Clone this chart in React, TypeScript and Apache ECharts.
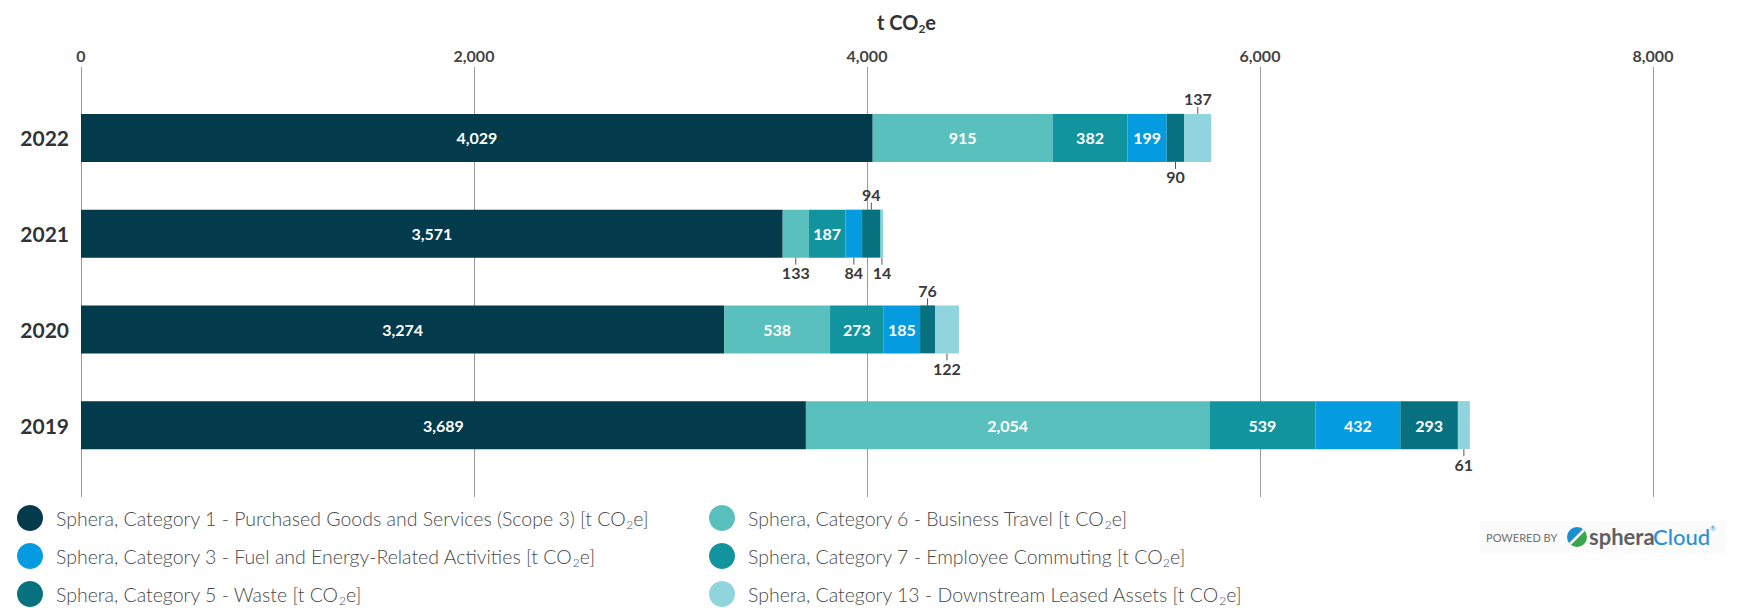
import React, { useEffect, useRef } from 'react';
import * as echarts from 'echarts';

const years = ['2022', '2021', '2020', '2019'];
const xTicks = { min: 0, max: 8000, interval: 2000 };

const seriesNames = [
  'Sphera, Category 1 - Purchased Goods and Services (Scope 3) [t CO2e]',
  'Sphera, Category 6 - Business Travel [t CO2e]',
  'Sphera, Category 7 - Employee Commuting [t CO2e]',
  'Sphera, Category 3 - Fuel and Energy-Related Activities [t CO2e]',
  'Sphera, Category 5 - Waste [t CO2e]',
  'Sphera, Category 13 - Downstream Leased Assets [t CO2e]',
];
const seriesColors = ['#033a4c', '#5ac0bd', '#12949f', '#049be0', '#08717f', '#90d4dd'];

// values per year: 2022, 2021, 2020, 2019
const cat1 = [4029, 3571, 3274, 3689];
const cat6 = [915, 133, 538, 2054];
const cat7 = [382, 187, 273, 539];
const cat3 = [199, 84, 185, 432];
const cat5 = [90, 94, 76, 293];
const cat13 = [137, 14, 122, 61];
const seriesValues = [cat1, cat6, cat7, cat3, cat5, cat13];

// where each value label sits: inside the bar, above or below it
const labelPlacement = [
  ['in', 'in', 'in', 'in'],
  ['in', 'bottom', 'in', 'in'],
  ['in', 'in', 'in', 'in'],
  ['in', 'bottom', 'in', 'in'],
  ['bottom', 'top', 'top', 'in'],
  ['top', 'bottom', 'bottom', 'bottom'],
];

const legendLeft = [seriesNames[0], seriesNames[3], seriesNames[4]];
const legendRight = [seriesNames[1], seriesNames[2], seriesNames[5]];

const FONT = 'Lato, "Open Sans", sans-serif';

const fmt = (v: number) => v.toLocaleString('en-US');

export default function App() {
  const ref = useRef<HTMLDivElement>(null);
  useEffect(() => {
    if (!ref.current) return;
    const chart = echarts.init(ref.current, undefined, { renderer: 'svg' });
    const series = seriesValues.map((vals, si) => ({
      type: 'bar',
      name: seriesNames[si],
      stack: 'total',
      barWidth: 48,
      itemStyle: { color: seriesColors[si] },
      labelLayout: (p: any) => {
        const pl = labelPlacement[p.seriesIndex]?.[p.dataIndex];
        if (pl === 'top') return { dy: -39 };
        if (pl === 'bottom') return { dy: 39 };
        return {};
      },
      data: vals.map((v, di) => {
        const pl = labelPlacement[si][di];
        if (pl === 'in') {
          return {
            value: v,
            label: {
              show: true,
              position: 'inside',
              color: '#ffffff',
              fontWeight: 'bold',
              fontSize: 16,
              fontFamily: FONT,
              formatter: (p: any) => fmt(p.value),
            },
          };
        }
        return {
          value: v,
          label: {
            show: true,
            position: 'inside',
            color: '#3a3a3a',
            fontWeight: 'bold',
            fontSize: 16,
            fontFamily: FONT,
            formatter: (p: any) => fmt(p.value),
          },
          labelLine: { show: true, lineStyle: { color: '#555555', width: 1 } },
        };
      }),
    }));

    const legendText = {
      fontSize: 19.5,
      color: '#4a4a4a',
      fontFamily: FONT,
      fontWeight: 300,
      rich: {
        sub: { fontSize: 12, color: '#4a4a4a', fontFamily: FONT, fontWeight: 300, padding: [12, 0, 0, 0] },
      },
    };
    const legendFormatter = (name: string) => name.replace('CO2e', 'CO{sub|2}e');
    const legendCommon = {
      orient: 'vertical',
      top: 505,
      height: 120,
      padding: 0,
      itemWidth: 42,
      itemHeight: 26,
      itemGap: 12,
      icon: 'circle',
      selectedMode: false,
      formatter: legendFormatter,
      textStyle: legendText,
    };

    chart.setOption({
      animation: false,
      textStyle: { fontFamily: FONT },
      title: {
        text: 't CO{sub|2}e',
        left: 872,
        top: 5,
        textStyle: {
          fontSize: 20,
          fontWeight: 'bold',
          color: '#333333',
          fontFamily: FONT,
          rich: { sub: { fontSize: 12, fontWeight: 'bold', color: '#333333', padding: [12, 0, 0, 0] } },
        },
      },
      grid: { left: 81, right: 87, top: 90, bottom: 135 },
      xAxis: [
        {
          type: 'value',
          position: 'top',
          ...xTicks,
          axisLine: { show: false },
          axisTick: { show: true, length: 23, lineStyle: { color: '#9a9a9a', width: 1 } },
          splitLine: { show: true, lineStyle: { color: '#9a9a9a', width: 1 } },
          axisLabel: {
            margin: 27,
            fontSize: 16,
            fontWeight: 'bold',
            color: '#444444',
            fontFamily: FONT,
            formatter: (v: number) => fmt(v),
          },
        },
        {
          type: 'value',
          position: 'bottom',
          ...xTicks,
          axisLine: { show: false },
          axisTick: { show: true, length: 24, lineStyle: { color: '#9a9a9a', width: 1 } },
          splitLine: { show: false },
          axisLabel: { show: false },
        },
      ],
      yAxis: {
        type: 'category',
        data: years,
        inverse: true,
        axisLine: { show: false },
        axisTick: { show: false },
        axisLabel: { margin: 12, fontSize: 21, fontWeight: 'bold', color: '#333333', fontFamily: FONT },
      },
      legend: [
        { ...legendCommon, data: legendLeft, left: 17 },
        { ...legendCommon, data: legendRight, left: 709 },
      ],
      graphic: [
        {
          type: 'group',
          left: 1480,
          top: 521,
          children: [
            { type: 'rect', shape: { x: 0, y: 0, width: 246, height: 32 }, style: { fill: '#fbfbfb' } },
            {
              type: 'text',
              x: 6,
              y: 16,
              style: {
                text: 'POWERED BY',
                fill: '#777777',
                font: '500 11px Lato, sans-serif',
                verticalAlign: 'middle',
                letterSpacing: 1.5 as any,
              },
            },
            { type: 'sector', shape: { cx: 97, cy: 16, r: 10, r0: 0, startAngle: Math.PI * 0.75, endAngle: Math.PI * 1.75 }, style: { fill: '#1c8fcf' } },
            { type: 'sector', shape: { cx: 97, cy: 16, r: 10, r0: 0, startAngle: -Math.PI * 0.25, endAngle: Math.PI * 0.75 }, style: { fill: '#3aa54a' } },
            { type: 'line', shape: { x1: 90, y1: 23, x2: 104, y2: 9 }, style: { stroke: '#fbfbfb', lineWidth: 2.5 } },
            {
              type: 'text',
              x: 109,
              y: 15,
              style: {
                text: 'sphera',
                fill: '#5f6063',
                font: 'bold 22px Lato, sans-serif',
                verticalAlign: 'middle',
              },
            },
            {
              type: 'text',
              x: 173,
              y: 15,
              style: {
                text: 'Cloud',
                fill: '#2a90d8',
                font: '500 22px Lato, sans-serif',
                verticalAlign: 'middle',
              },
            },
            {
              type: 'text',
              x: 230,
              y: 7,
              style: { text: '®', fill: '#2a90d8', font: '7px Lato, sans-serif', verticalAlign: 'middle' },
            },
          ],
        },
      ],
      series,
    });
    return () => chart.dispose();
  }, []);
  return (
    <div
      ref={ref}
      style={{ position: 'absolute', left: 0, top: 0, width: 1740, height: 608, background: '#ffffff' }}
    />
  );
}
